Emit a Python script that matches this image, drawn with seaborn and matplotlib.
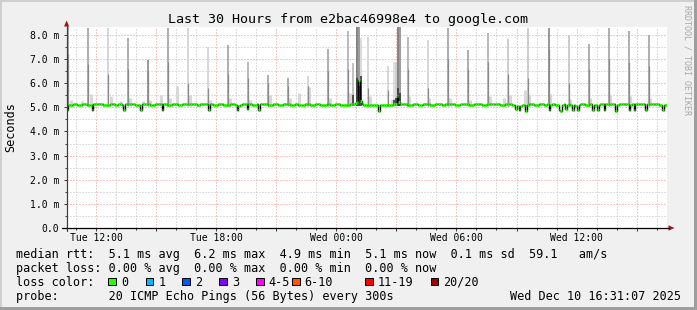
import matplotlib
matplotlib.use("Agg")
import matplotlib.pyplot as plt
import matplotlib.dates as mdates
from matplotlib.ticker import MultipleLocator, FuncFormatter
from matplotlib.patches import Rectangle, Polygon
from matplotlib.lines import Line2D
import numpy as np
import pandas as pd
import seaborn as sns

# ------------------------------------------------------------------ data
start_time = "2025-12-09 10:31:07"
step_minutes = 5

# median rtt (ms), one value per 5-minute step (30 hours)
median_ms = [
    4.88, 5.10, 5.10, 5.10, 5.12, 5.12, 5.10, 5.10, 5.10, 5.12, 5.12, 5.12, 5.10, 5.10, 5.08, 4.88, 5.14, 5.14, 5.12, 5.12, 5.12, 5.12, 5.10, 5.10,
    5.10, 5.10, 5.12, 5.12, 5.12, 5.10, 5.10, 5.12, 5.12, 5.10, 4.90, 5.14, 5.14, 5.12, 5.12, 5.12, 5.12, 5.10, 5.10, 5.10, 4.88, 5.12, 5.12, 5.12,
    5.12, 5.12, 5.10, 5.10, 5.10, 5.12, 5.12, 5.14, 5.12, 4.88, 5.12, 5.12, 5.10, 5.10, 5.10, 5.12, 5.12, 5.12, 5.12, 5.10, 5.10, 5.12, 5.12, 5.12,
    5.12, 5.14, 5.14, 5.14, 5.12, 5.12, 5.10, 5.10, 5.12, 5.12, 5.12, 5.14, 5.12, 4.90, 5.12, 5.12, 5.10, 5.10, 5.10, 5.12, 5.12, 5.12, 5.10, 5.10,
    5.10, 5.10, 5.12, 5.12, 5.12, 5.10, 4.88, 5.06, 5.08, 5.12, 5.12, 5.12, 4.92, 5.12, 5.12, 5.10, 5.10, 5.10, 5.12, 4.88, 5.12, 5.12, 5.12, 5.12,
    5.12, 5.10, 5.10, 5.10, 5.12, 5.12, 5.12, 5.10, 5.10, 5.10, 5.12, 5.12, 5.12, 5.12, 5.10, 5.10, 5.10, 5.12, 5.12, 5.10, 5.10, 5.10, 5.10, 5.12,
    5.12, 5.12, 5.10, 5.10, 5.10, 5.12, 5.12, 5.12, 5.10, 5.10, 5.10, 5.10, 5.12, 5.12, 5.10, 5.10, 5.10, 5.12, 5.12, 5.12, 5.10, 5.10, 5.10, 5.10,
    5.10, 5.10, 5.12, 5.12, 5.12, 5.17, 5.22, 6.15, 5.26, 5.14, 5.10, 5.10, 5.10, 5.10, 5.10, 5.10, 5.10, 5.10, 5.10, 4.86, 5.10, 5.10, 5.10, 5.10,
    5.10, 5.10, 5.10, 5.10, 5.12, 5.12, 5.45, 5.24, 5.14, 5.12, 5.12, 5.12, 5.10, 5.10, 5.10, 5.10, 5.12, 5.12, 5.12, 5.10, 5.10, 5.10, 5.12, 5.12,
    5.12, 5.12, 5.10, 5.10, 5.10, 5.12, 5.12, 5.12, 5.12, 5.10, 5.10, 5.12, 5.12, 5.14, 5.14, 5.12, 5.12, 5.10, 5.10, 5.10, 5.12, 5.12, 5.12, 5.12,
    5.12, 5.10, 5.10, 5.10, 5.12, 5.12, 5.14, 5.12, 5.12, 5.10, 5.10, 5.10, 5.12, 5.12, 5.12, 5.14, 5.14, 5.12, 5.12, 5.12, 5.10, 5.10, 5.10, 5.12,
    5.12, 5.12, 5.12, 5.10, 5.08, 4.92, 5.04, 4.88, 5.06, 5.10, 5.10, 4.86, 5.10, 5.12, 5.12, 5.12, 5.10, 5.10, 5.10, 5.12, 5.12, 5.12, 5.10, 5.10,
    5.12, 4.88, 5.10, 5.12, 5.12, 5.10, 5.08, 4.90, 4.86, 5.10, 5.12, 4.92, 5.10, 5.12, 5.08, 4.88, 5.10, 5.04, 4.90, 5.10, 5.12, 5.12, 5.12, 5.10,
    5.10, 5.12, 5.12, 4.88, 5.08, 5.10, 4.90, 5.10, 5.12, 5.12, 4.88, 5.12, 5.14, 5.14, 5.12, 5.12, 5.12, 4.86, 5.10, 5.12, 5.12, 5.14, 5.14, 5.12,
    5.12, 4.88, 5.10, 5.12, 4.90, 5.12, 5.12, 5.14, 5.14, 5.12, 5.12, 4.88, 5.12, 5.12, 5.12, 5.14, 5.12, 5.12, 5.12, 5.10, 5.10, 4.90, 5.10, 5.10,
]

# hourly smoke spikes: hours after start, max ping (ms), top of darker core (ms), shade
spike_hour = [0.08, 1.08, 2.08, 3.08, 4.08, 5.08, 6.08, 7.08, 8.08, 9.08,
              10.08, 11.08, 12.08, 13.08, 14.08, 15.08, 16.08, 17.08, 18.08, 19.08,
              20.08, 21.08, 22.08, 23.08, 24.08, 25.08, 26.08, 27.08, 28.08, 29.08]
spike_top = [8.40, 8.28, 8.28, 7.87, 6.97, 8.28, 8.28, 7.52, 7.60, 6.90,
             6.35, 6.20, 6.30, 7.40, 8.15, 7.90, 6.70, 7.90, 7.80, 8.28,
             7.39, 8.10, 7.84, 8.28, 8.28, 8.00, 7.63, 8.28, 8.15, 8.00]
spike_core = [7.20, 6.80, 6.40, 6.60, 6.50, 6.90, 6.00, 5.80, 6.40, 6.20,
              6.00, 5.90, 5.90, 6.50, 6.60, 5.80, 5.70, 6.60, 5.80, 7.00,
              6.60, 6.90, 6.40, 6.20, 7.40, 6.00, 6.60, 7.00, 6.90, 6.70]
spike_shade = ["#a8a8a8", "#a8a8a8", "#d4d4d4", "#a8a8a8", "#909090", "#a8a8a8", "#d4d4d4", "#d4d4d4", "#a8a8a8", "#b4b4b4",
               "#a8a8a8", "#a8a8a8", "#d4d4d4", "#a8a8a8", "#b4b4b4", "#d4d4d4", "#d4d4d4", "#b4b4b4", "#d4d4d4", "#a8a8a8",
               "#a8a8a8", "#b4b4b4", "#c8c8c8", "#c8c8c8", "#909090", "#c8c8c8", "#a8a8a8", "#a8a8a8", "#a8a8a8", "#a8a8a8"]

# extra (non hourly) smoke events: hours, max ping, dark core top, shade
event_hour = [14.33, 14.52, 14.60, 14.73, 16.34, 16.45, 16.58, 16.66]
event_top = [6.84, 8.33, 8.33, 7.86, 6.90, 6.90, 8.33, 8.33]
event_core = [5.50, 6.20, 5.90, 6.30, 5.30, 5.40, 5.80, 5.60]
event_shade = ["#b8b8b8", "#707070", "#8a8a8a", "#d4d4d4", "#d8d8d8", "#c8c8c8", "#707070", "#8a8a8a"]

# small light smoke blobs just above the median
blob_hour = [0.20, 0.75, 1.20, 2.20, 2.70, 3.15, 3.80, 4.15, 4.70, 5.15, 5.50, 6.15, 7.15,
             8.15, 9.15, 10.15, 11.15, 11.60, 12.10, 13.15, 14.15, 15.15, 16.25, 17.10,
             18.10, 19.15, 20.15, 21.15, 21.85, 22.15, 22.90, 23.10, 24.15, 25.15, 26.15,
             27.15, 28.15, 29.15]
blob_top = [5.32, 5.28, 5.55, 5.48, 5.25, 5.38, 5.28, 5.32, 5.50, 5.40, 5.90, 5.50, 5.32,
            5.40, 5.30, 5.52, 5.40, 5.60, 5.85, 5.40, 5.60, 5.45, 5.35, 5.45,
            5.38, 5.40, 5.30, 5.45, 5.38, 5.50, 5.72, 5.50, 5.55, 5.35, 5.40,
            5.50, 5.45, 5.40]

loss_labels = ["0", "1", "2", "3", "4-5", "6-10", "11-19", "20/20"]
loss_colors = ["#26ff00", "#00b8ff", "#0059ff", "#7e00ff", "#ff00ff", "#ff5500", "#ff0000", "#a10000"]

title = "Last 30 Hours from e2bac46998e4 to google.com"
row_median = "median rtt:  5.1 ms avg  6.2 ms max  4.9 ms min  5.1 ms now  0.1 ms sd  59.1   am/s"
row_loss = "packet loss: 0.00 % avg  0.00 % max  0.00 % min  0.00 % now"
row_probe = "probe:       20 ICMP Echo Pings (56 Bytes) every 300s"
stamp = "Wed Dec 10 16:31:07 2025"

# ------------------------------------------------------------------ style
sns.set_theme(style="white")
plt.rcParams["font.family"] = ["DejaVu Sans Mono"]
plt.rcParams["axes.unicode_minus"] = False

W, H = 697, 310
BG = "#f0f0f0"


def fx(x):
    return x / W


def fy(y):
    return 1 - y / H


fig = plt.figure(figsize=(W / 100, H / 100), dpi=100, facecolor=BG)
ax = fig.add_axes([fx(66.5), fy(228), (667 - 66.5) / W, (228 - 27) / H])
ax.set_facecolor("white")

t0 = pd.Timestamp(start_time)
times = pd.date_range(t0, periods=len(median_ms) + 1, freq=f"{step_minutes}min")
tnum = mdates.date2num(times.to_pydatetime())


def hnum(hours):
    return mdates.date2num((t0 + pd.to_timedelta(np.asarray(hours), unit="h")).to_pydatetime())


base = 5.06
# smoke
ax.vlines(hnum(blob_hour), base, blob_top, colors="#d8d8d8", linewidth=2.2, zorder=2)
ax.vlines(hnum(spike_hour), base, spike_top, colors=spike_shade, linewidth=1.3, zorder=2.1)
ax.vlines(hnum(spike_hour), base, spike_core, colors="#8a8a8a", linewidth=0.9, zorder=2.2)
ax.vlines(hnum(event_hour), base, event_top, colors=event_shade, linewidth=1.2, zorder=2.3)
ax.vlines(hnum(event_hour), base, event_core, colors="#383838", linewidth=1.2, zorder=2.4)

# median: black connectors + green steps
df = pd.DataFrame({"t": tnum, "rtt": median_ms + [median_ms[-1]]})
sns.lineplot(data=df, x="t", y="rtt", drawstyle="steps-post", color="black",
             linewidth=1.0, estimator=None, ax=ax, zorder=3)
ax.hlines(median_ms, tnum[:-1], tnum[1:], colors="#26ff00", linewidth=2.0, zorder=4)

ax.set_xlim(tnum[0], tnum[-1])
ax.set_ylim(0, 8.33)
ax.set_xlabel("")
ax.set_ylabel("")

# ticks and grid
ax.xaxis.set_major_locator(mdates.HourLocator(byhour=range(0, 24, 3)))
ax.xaxis.set_minor_locator(mdates.HourLocator())


def xfmt(v, pos):
    d = mdates.num2date(v)
    return d.strftime("%a %H:%M") if d.hour % 6 == 0 else ""


ax.xaxis.set_major_formatter(FuncFormatter(xfmt))
ax.yaxis.set_major_locator(MultipleLocator(1.0))
ax.yaxis.set_minor_locator(MultipleLocator(0.5))
ax.yaxis.set_major_formatter(FuncFormatter(lambda v, p: "0.0" if abs(v) < 1e-9 else f"{v:.1f} m"))

ax.set_axisbelow(True)
ax.grid(which="minor", color="#c0c0c0", linestyle=(0, (1, 2)), linewidth=0.72)
ax.grid(which="major", color="#ec9090", linestyle=(0, (1, 2)), linewidth=0.72)
ax.tick_params(axis="both", which="major", length=2.2, width=0.72, color="#404040",
               labelsize=7, labelcolor="black", direction="out")
ax.tick_params(axis="both", which="minor", length=1.4, width=0.72, color="#404040", direction="out")
ax.tick_params(axis="x", which="major", pad=1.2)
ax.tick_params(axis="y", which="major", pad=3.2)
ax.tick_params(axis="x", which="both", bottom=True)
ax.tick_params(axis="y", which="both", left=True)
for s in ax.spines.values():
    s.set_visible(False)

# axis lines and arrows
fig.add_artist(Line2D([fx(66.5), fx(66.5)], [fy(231), fy(25)], color="#404040", linewidth=0.9))
fig.add_artist(Line2D([fx(62), fx(669)], [fy(228), fy(228)], color="black", linewidth=0.9))
fig.add_artist(Polygon([(fx(64.0), fy(26.5)), (fx(69.2), fy(26.5)), (fx(66.6), fy(20.5))],
                       closed=True, facecolor="#a01818", edgecolor="none"))
fig.add_artist(Polygon([(fx(668.5), fy(225.3)), (fx(668.5), fy(230.7)), (fx(674.5), fy(228))],
                       closed=True, facecolor="#a01818", edgecolor="none"))

# texts
fig.text(0.5, fy(23), title, ha="center", va="baseline", fontsize=9.6, color="black")
fig.text(fx(11), fy(127.5), "Seconds", rotation=90, ha="center", va="center", fontsize=8.5, color="black")
fig.text(fx(686.5), fy(5), "RRDTOOL / TOBI OETIKER", rotation=270, ha="center", va="top",
         fontsize=6, color="#a8a8a8")

fs = 8.5
fig.text(fx(16), fy(258), row_median, ha="left", va="baseline", fontsize=fs, color="black")
fig.text(fx(16), fy(272), row_loss, ha="left", va="baseline", fontsize=fs, color="black")
fig.text(fx(16), fy(285.5), "loss color:", ha="left", va="baseline", fontsize=fs, color="black")
fig.text(fx(16), fy(300), row_probe, ha="left", va="baseline", fontsize=fs, color="black")
fig.text(fx(681), fy(300), stamp, ha="right", va="baseline", fontsize=fs, color="black")

box_x = [108.3, 145.7, 182.3, 219.3, 256.0, 292.0, 365.0, 430.7]
for bx, lab, col in zip(box_x, loss_labels, loss_colors):
    fig.add_artist(Rectangle((fx(bx), fy(285.3)), 7.6 / W, 7.6 / H, facecolor=col,
                             edgecolor="black", linewidth=0.72))
    fig.text(fx(bx + 12.5), fy(285.5), lab, ha="left", va="baseline", fontsize=fs, color="black")

# 3D frame
fig.add_artist(Rectangle((0, 0), 1, 3 / H, facecolor="#9e9e9e", edgecolor="none"))
fig.add_artist(Rectangle((1 - 3 / W, 0), 3 / W, 1, facecolor="#9e9e9e", edgecolor="none"))
fig.add_artist(Rectangle((0, 1 - 2 / H), 1 - 3 / W, 2 / H, facecolor="#cfcfcf", edgecolor="none"))
fig.add_artist(Rectangle((0, 3 / H), 2 / W, 1 - 5 / H, facecolor="#cfcfcf", edgecolor="none"))

fig.savefig("out.png", dpi=100, facecolor=BG)
